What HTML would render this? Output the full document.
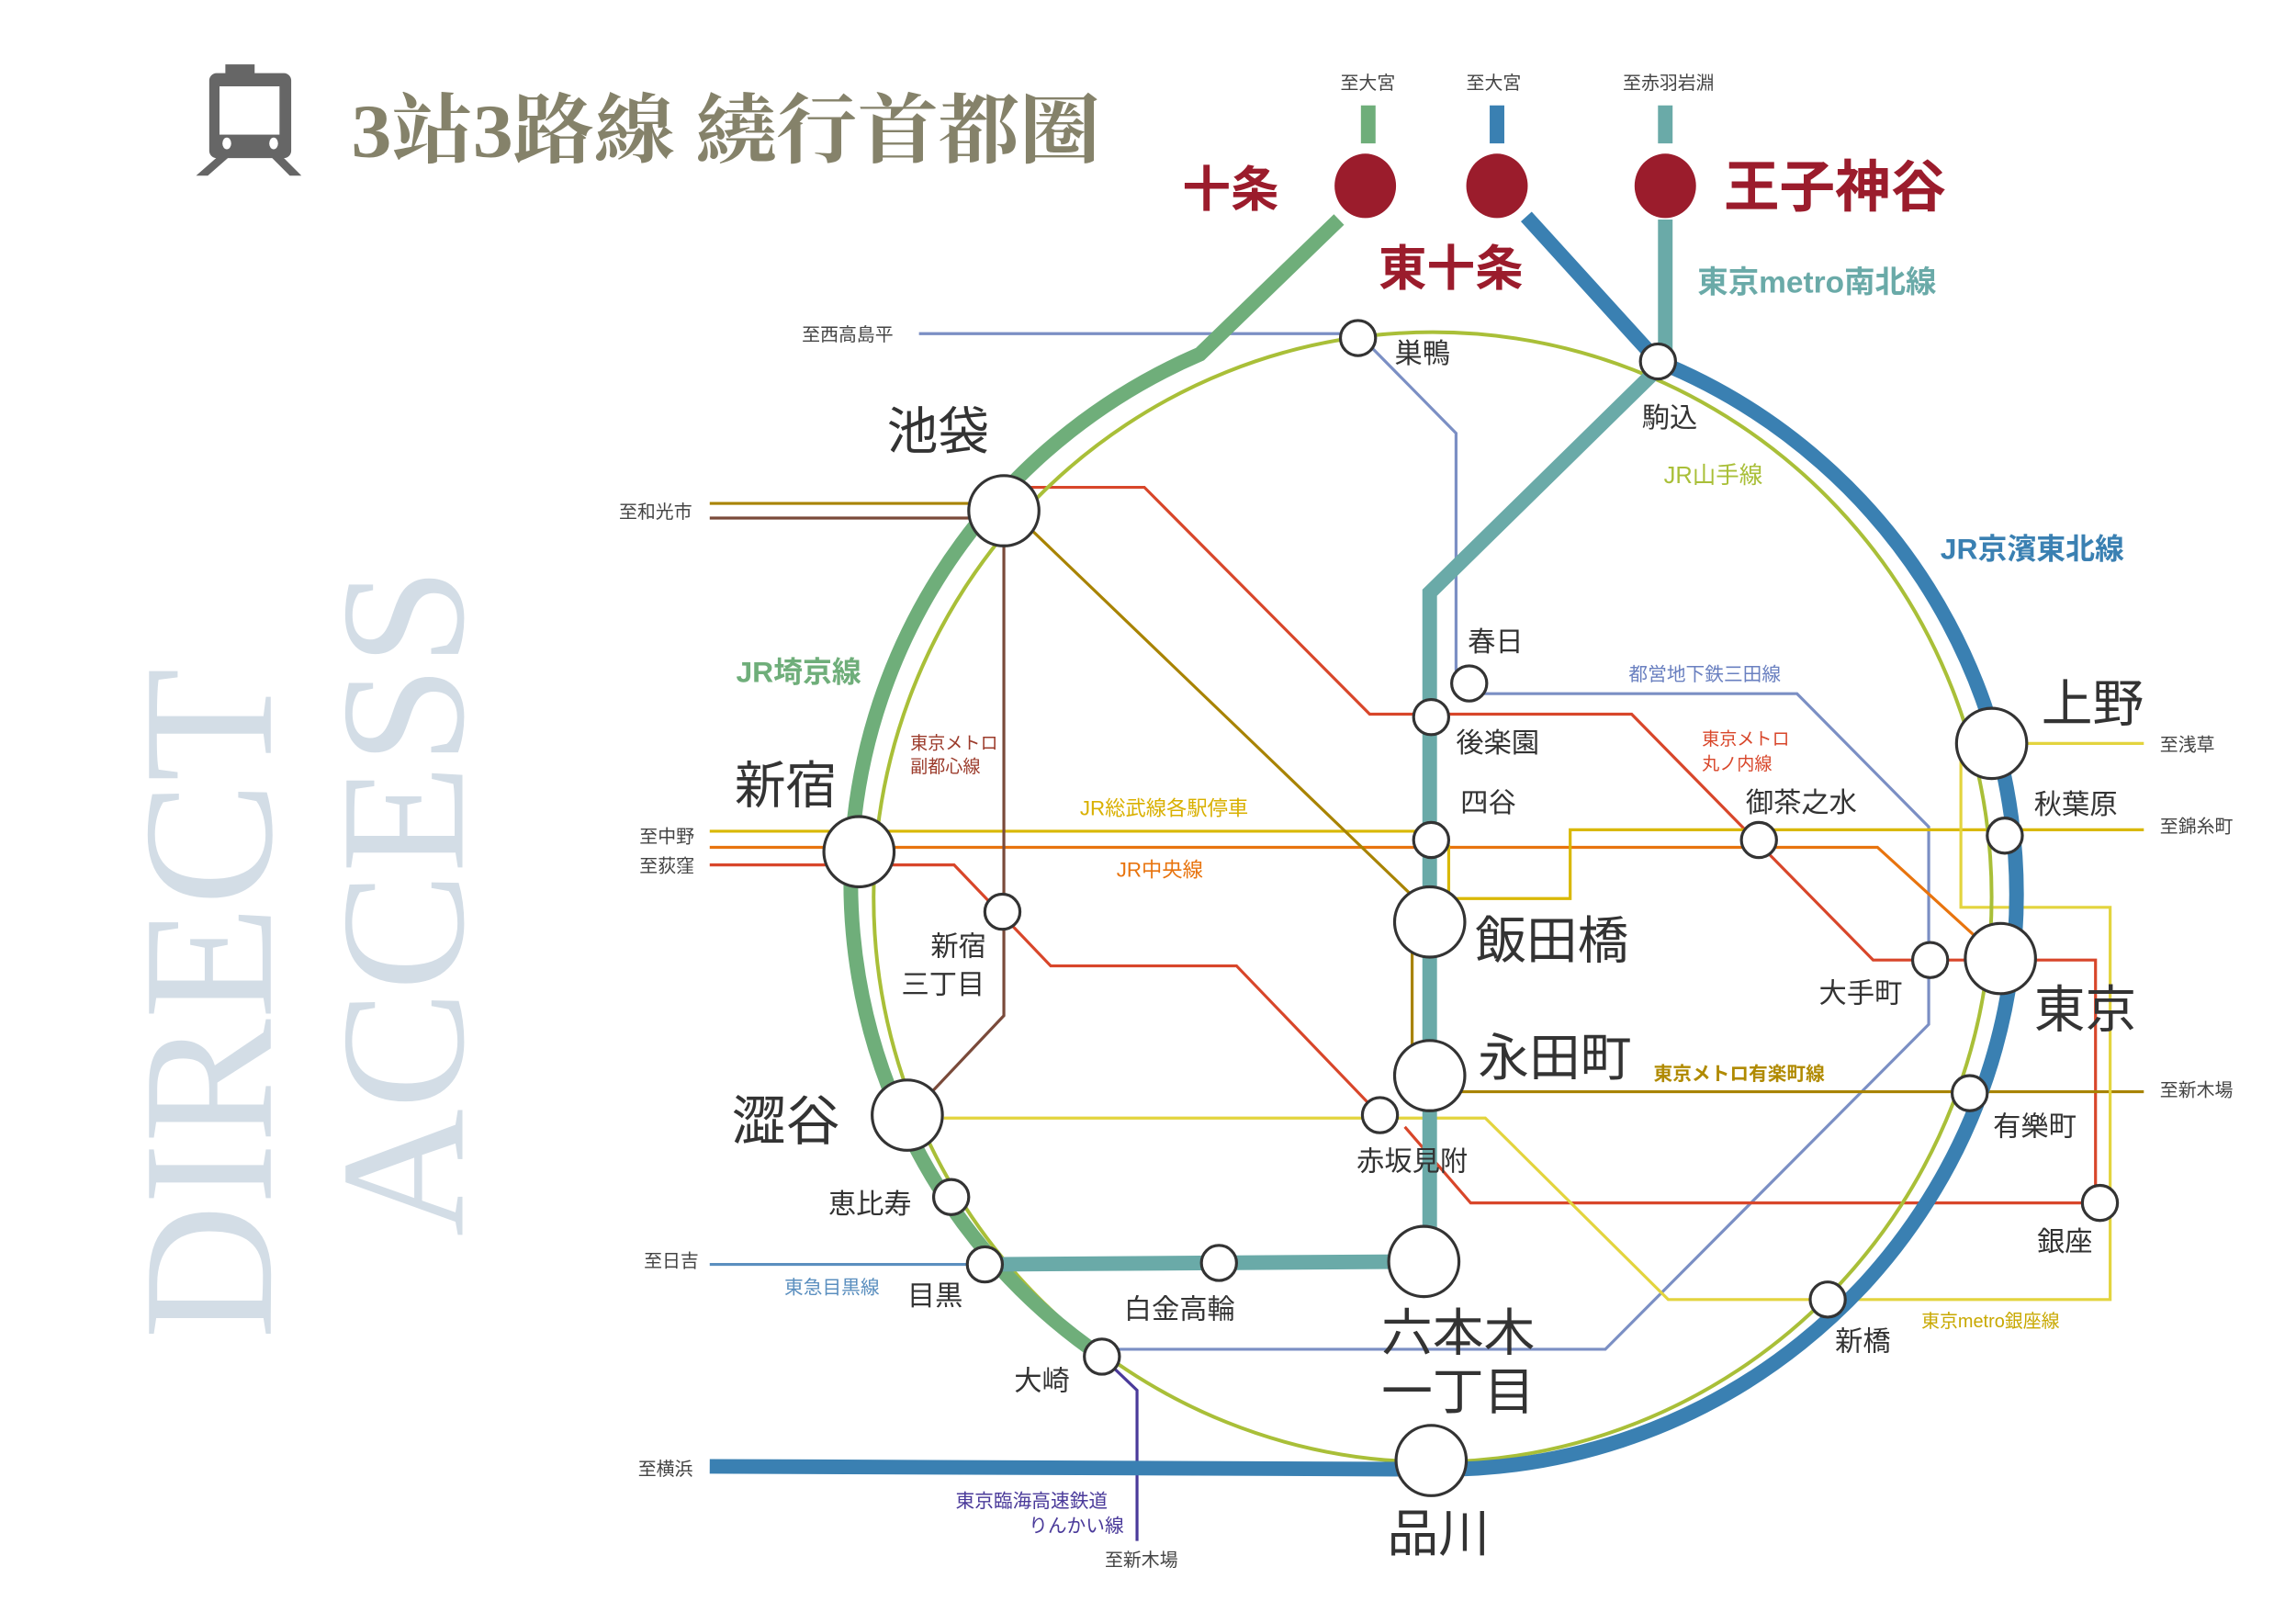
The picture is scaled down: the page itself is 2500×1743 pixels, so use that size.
<!DOCTYPE html>
<html><head><meta charset="utf-8"><style>
html,body{margin:0;padding:0;background:#fff;}
svg{display:block;}
text{font-family:"Liberation Sans","Noto Sans CJK JP",sans-serif;fill:#333;}
.s{font-size:19px;}
.d{font-size:12.5px;fill:#444;}
.b{font-size:35px;}
</style></head><body>
<svg width="2500" height="1743" viewBox="0 0 1569 1094" preserveAspectRatio="none" xmlns="http://www.w3.org/2000/svg">
<rect width="1600" height="1100" fill="#fff"/>
<text transform="translate(185,915) rotate(-90)" style="font-family:'Liberation Serif',serif;font-size:127px;fill:#d3dde6">DIRECT</text>
<text transform="translate(316,845) rotate(-90)" style="font-family:'Liberation Serif',serif;font-size:121px;fill:#d3dde6">ACCESS</text>
<g fill="#666">
<rect x="154" y="44" width="20" height="8"/>
<rect x="143" y="50" width="56" height="58" rx="5"/>
<polygon points="150,106 158,106 142,120 134,120"/>
<polygon points="184,106 192,106 206,120 198,120"/>
</g>
<rect x="150" y="59" width="41" height="33" fill="#fff"/>
<ellipse cx="155" cy="98" rx="3" ry="4" fill="#fff"/>
<ellipse cx="187" cy="98" rx="3" ry="4" fill="#fff"/>
<text x="240" y="107" textLength="512" lengthAdjust="spacingAndGlyphs" style="font-family:'Liberation Serif','Noto Serif CJK SC',serif;font-weight:bold;font-size:52px;fill:#85826a">3站3路線 繞行首都圈</text>

<g fill="none" stroke-width="2">
<polyline stroke="#7b8fc4" points="628,228 928,228 995,296 995,458 1004,467"/>
<polyline stroke="#7b8fc4" points="1004,474 1228,474 1318,565 1318,700 1097,922 753,922"/>
<polyline stroke="#d8462a" points="700,333 782,333 936,488 1115,488 1280,656 1432,656 1432,822 1005,822 960,770"/>
<polyline stroke="#d8462a" points="485,591 652,591 718,660 845,660 943,762"/>
<polyline stroke="#e8740e" points="485,579 1283,579 1350,640"/>
<polyline stroke="#d9b800" points="485,568 978,568 990,578 990,614 1073,614 1073,567 1465,567"/>
<polyline stroke="#a88300" points="485,344 686,344 965,612 965,746 1465,746"/>
<polyline stroke="#7a4a3a" points="485,354 686,354 686,694 635,748"/>
<polyline stroke="#e3d43e" points="1465,508 1340,508 1340,620 1442,620 1442,888 1140,888 1015,764 645,764"/>
<polyline stroke="#4a3a9a" points="753,927 777,950 777,1053"/>
<polyline stroke="#5b8fbf" points="485,864 673,864"/>
</g>
<ellipse cx="979" cy="613" rx="382" ry="386" fill="none" stroke="#a9bf38" stroke-width="2.5"/>
<g fill="none" stroke-width="10">
<path d="M935,72 V98" stroke="#6fae7a"/>
<path d="M1023,72 V98" stroke="#3a80b2"/>
<path d="M1138,72 V98" stroke="#6aaaa8"/>
<path d="M915,150 L820,242 A395 393 0 0 0 753,927" stroke="#6fae7a"/>
<path d="M1043,148 L1133,247 A393 393 0 0 1 978,1004 L485,1002" stroke="#3a80b2"/>
<path d="M1138,150 V247 L977,405 V862 M973,862 L673,864" stroke="#6aaaa8"/>
</g>
<g fill="#9b1c2c">
<ellipse cx="933" cy="127" rx="21" ry="22"/>
<ellipse cx="1023" cy="127" rx="21" ry="22"/>
<ellipse cx="1138" cy="127" rx="21" ry="22"/>
</g>
<g fill="#fff" stroke="#333" stroke-width="2">
<circle cx="928" cy="231" r="12"/><circle cx="1133" cy="247" r="12"/>
<circle cx="686" cy="349" r="24"/><circle cx="1004" cy="467" r="12"/>
<circle cx="978" cy="490" r="12"/><circle cx="978" cy="574" r="12"/>
<circle cx="1361" cy="508" r="24"/><circle cx="1370" cy="571" r="12"/>
<circle cx="1202" cy="574" r="12"/><circle cx="587" cy="582" r="24"/>
<circle cx="685" cy="623" r="12"/><circle cx="977" cy="630" r="24"/>
<circle cx="1319" cy="656" r="12"/><circle cx="1367" cy="655" r="24"/>
<circle cx="977" cy="735" r="24"/><circle cx="1346" cy="747" r="12"/>
<circle cx="620" cy="762" r="24"/><circle cx="943" cy="762" r="12"/>
<circle cx="650" cy="818" r="12"/><circle cx="1435" cy="822" r="12"/>
<circle cx="673" cy="864" r="12"/><circle cx="833" cy="863" r="12"/>
<circle cx="973" cy="862" r="24"/><circle cx="1249" cy="888" r="12"/>
<circle cx="753" cy="927" r="12"/><circle cx="978" cy="998" r="24"/>
</g>
<g style="font-weight:bold;fill:#9b1c2c">
<text x="808" y="141" style="font-size:33px;fill:#9b1c2c">十条</text>
<text x="942" y="195" style="font-size:33px;fill:#9b1c2c">東十条</text>
<text x="1178" y="141" style="font-size:38px;fill:#9b1c2c">王子神谷</text>
</g>
<text x="1160" y="200" style="font-size:21px;font-weight:bold;fill:#6aaaa8">東京metro南北線</text>
<text x="1326" y="382" style="font-size:20px;font-weight:bold;fill:#3a80b2">JR京濱東北線</text>
<text x="1137" y="330" style="font-size:16px;fill:#a9bf38">JR山手線</text>
<text x="503" y="466" style="font-size:20px;font-weight:bold;fill:#6fae7a">JR埼京線</text>
<text x="1113" y="465" style="font-size:13px;fill:#6a80c0">都営地下鉄三田線</text>
<text x="1163" y="509" style="font-size:12px;fill:#d8462a">東京メトロ</text>
<text x="1163" y="526" style="font-size:12px;fill:#d8462a">丸ノ内線</text>
<text x="622" y="512" style="font-size:12px;fill:#9b3a2a">東京メトロ</text>
<text x="622" y="528" style="font-size:12px;fill:#9b3a2a">副都心線</text>
<text x="738" y="557" style="font-size:14px;fill:#d9b000">JR総武線各駅停車</text>
<text x="763" y="599" style="font-size:14px;fill:#e8740e">JR中央線</text>
<text x="1130" y="738" style="font-size:13px;font-weight:bold;fill:#b08a00">東京メトロ有楽町線</text>
<text x="1313" y="907" style="font-size:12.5px;fill:#c8a800">東京metro銀座線</text>
<text x="536" y="884" style="font-size:13px;fill:#5b8fbf">東急目黒線</text>
<text x="653" y="1030" style="font-size:13px;fill:#4a3a9a">東京臨海高速鉄道</text>
<text x="703" y="1047" style="font-size:13px;fill:#4a3a9a">りんかい線</text>
<text class="d" x="916" y="61">至大宮</text>
<text class="d" x="1002" y="61">至大宮</text>
<text class="d" x="1109" y="61">至赤羽岩淵</text>
<text class="d" x="548" y="233">至西高島平</text>
<text class="d" x="423" y="354">至和光市</text>
<text class="d" x="437" y="576">至中野</text>
<text class="d" x="437" y="596">至荻窪</text>
<text class="d" x="440" y="866">至日吉</text>
<text class="d" x="436" y="1008">至横浜</text>
<text class="d" x="1476" y="513">至浅草</text>
<text class="d" x="1476" y="569">至錦糸町</text>
<text class="d" x="1476" y="749">至新木場</text>
<text class="d" x="755" y="1070">至新木場</text>
<text class="s" x="953" y="248">巣鴨</text>
<text class="s" x="1122" y="292">駒込</text>
<text class="s" x="1003" y="445">春日</text>
<text class="s" x="995" y="514">後楽園</text>
<text class="s" x="998" y="555">四谷</text>
<text class="s" x="1390" y="556">秋葉原</text>
<text class="s" x="1193" y="555">御茶之水</text>
<text class="s" x="636" y="653">新宿</text>
<text class="s" x="616" y="679">三丁目</text>
<text class="s" x="1243" y="685">大手町</text>
<text class="s" x="1362" y="776">有樂町</text>
<text class="s" x="927" y="800">赤坂見附</text>
<text class="s" x="566" y="829">恵比寿</text>
<text class="s" x="1392" y="855">銀座</text>
<text class="s" x="620" y="892">目黒</text>
<text class="s" x="768" y="901">白金高輪</text>
<text class="s" x="1254" y="923">新橋</text>
<text class="s" x="693" y="950">大崎</text>
<text class="b" x="606" y="307">池袋</text>
<text class="b" x="1395" y="493">上野</text>
<text class="b" x="502" y="549">新宿</text>
<text class="b" x="1008" y="655">飯田橋</text>
<text class="b" x="1390" y="702">東京</text>
<text class="b" x="1010" y="735">永田町</text>
<text class="b" x="500" y="779" style="font-size:37px">澀谷</text>
<text class="b" x="944" y="923">六本木</text>
<text class="b" x="944" y="963">一丁目</text>
<text class="b" x="948" y="1060">品川</text>
</svg>
</body></html>
